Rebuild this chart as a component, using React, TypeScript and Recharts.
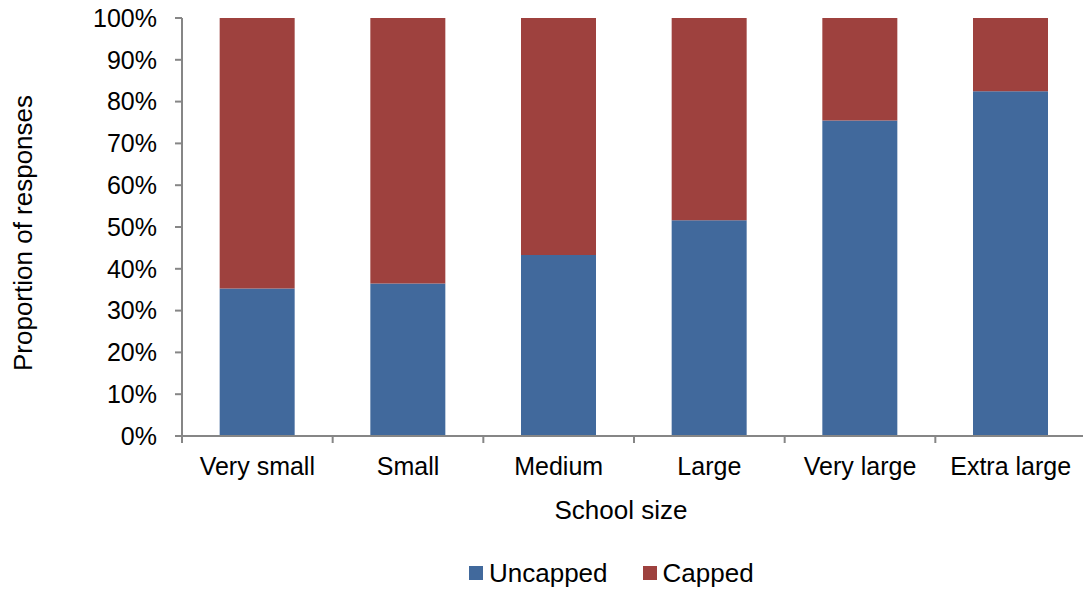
import React from 'react';
import { BarChart, Bar, XAxis, YAxis, Label } from 'recharts';

const categories = ['Very small', 'Small', 'Medium', 'Large', 'Very large', 'Extra large'];
const uncapped = [35.3, 36.5, 43.3, 51.6, 75.5, 82.5];
const capped = [64.7, 63.5, 56.7, 48.4, 24.5, 17.5];
const yTicks = [0, 10, 20, 30, 40, 50, 60, 70, 80, 90, 100];

const seriesNames = { uncapped: 'Uncapped', capped: 'Capped' };
const colors = { uncapped: '#41699C', capped: '#9E413E' };

const data = categories.map((name, i) => ({ name, uncapped: uncapped[i], capped: capped[i] }));

const FONT = 'Liberation Sans, Arial, sans-serif';
const AXIS = '#868686';
const X_TICK_SIZE = 7;
const X_TICK_MARGIN = 14;

function CategoryTick(props: any) {
  const { x, y, payload, width, visibleTicksCount, index } = props;
  const count = visibleTicksCount || categories.length;
  const band = (width || 904) / count;
  const axisY = y - X_TICK_SIZE - X_TICK_MARGIN;
  const left = x - band / 2;
  const right = x + band / 2;
  return (
    <g>
      <line x1={left} y1={axisY} x2={left} y2={axisY + X_TICK_SIZE} stroke={AXIS} strokeWidth={2} />
      {index === count - 1 ? (
        <line x1={right} y1={axisY} x2={right} y2={axisY + X_TICK_SIZE} stroke={AXIS} strokeWidth={2} />
      ) : null}
      <text x={x} y={y} dy="0.71em" textAnchor="middle" fill="#000" fontSize={25} fontFamily={FONT}>
        {payload.value}
      </text>
    </g>
  );
}

export default function App() {
  return (
    <div style={{ position: 'absolute', left: 0, top: 0, width: 1083, height: 589, overflow: 'hidden', background: '#fff', fontFamily: FONT }}>
      <BarChart
        width={1086}
        height={589}
        data={data}
        margin={{ top: 18, right: 0, left: 0, bottom: 93 }}
        barCategoryGap="25%"
      >
        <XAxis
          dataKey="name"
          height={60}
          tickSize={X_TICK_SIZE}
          tickMargin={X_TICK_MARGIN}
          axisLine={{ stroke: AXIS, strokeWidth: 2 }}
          tickLine={false}
          tick={<CategoryTick />}
          interval={0}
        >
          <Label value="School size" position="bottom" offset={5} dx={-13} fill="#000" fontSize={26} fontFamily={FONT} />
        </XAxis>
        <YAxis
          width={182}
          domain={[0, 100]}
          ticks={yTicks}
          interval={0}
          tickFormatter={(v) => `${v}%`}
          tickSize={7}
          tickMargin={18}
          axisLine={{ stroke: AXIS, strokeWidth: 2 }}
          tickLine={{ stroke: AXIS, strokeWidth: 2 }}
          tick={{ fill: '#000', fontSize: 25, fontFamily: FONT }}
        >
          <Label
            content={(props: any) => {
              const vb = props.viewBox || {};
              const cx = 23;
              const cy = (vb.y ?? 18) + (vb.height ?? 418) / 2 + 6;
              return (
                <text
                  x={cx}
                  y={cy}
                  transform={`rotate(-90, ${cx}, ${cy})`}
                  textAnchor="middle"
                  dominantBaseline="central"
                  fill="#000"
                  fontSize={26}
                  fontFamily={FONT}
                >
                  Proportion of responses
                </text>
              );
            }}
          />
        </YAxis>
        <Bar dataKey="uncapped" name={seriesNames.uncapped} stackId="a" fill={colors.uncapped} isAnimationActive={false} />
        <Bar dataKey="capped" name={seriesNames.capped} stackId="a" fill={colors.capped} isAnimationActive={false} />
      </BarChart>
      <div style={{ position: 'absolute', left: 469, top: 558, height: 30, display: 'flex', alignItems: 'center', fontSize: 26, lineHeight: '30px', color: '#000' }}>
        <span style={{ display: 'inline-block', width: 14, height: 14, background: colors.uncapped, marginRight: 6 }} />
        <span style={{ marginRight: 35 }}>{seriesNames.uncapped}</span>
        <span style={{ display: 'inline-block', width: 14, height: 14, background: colors.capped, marginRight: 6 }} />
        <span>{seriesNames.capped}</span>
      </div>
    </div>
  );
}
